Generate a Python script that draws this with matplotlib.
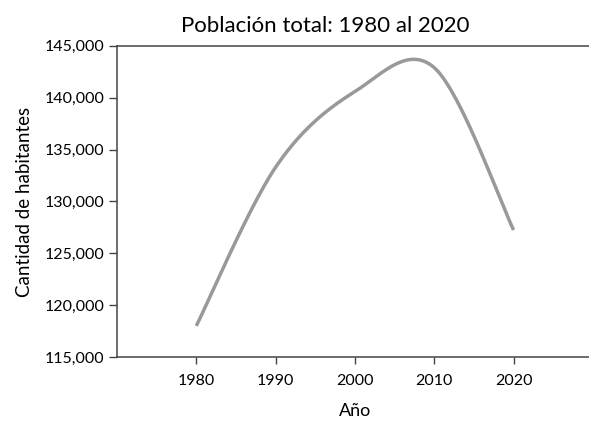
import numpy as np
import matplotlib
matplotlib.use("Agg")
import matplotlib.pyplot as plt
from matplotlib.ticker import FuncFormatter

plt.rcParams['font.family'] = ['Lato', 'DejaVu Sans']

# datos
anios = [1980, 1990, 2000, 2010, 2020]
habitantes = [118000, 133300, 140600, 142900, 127250]


def suavizar(xs, ys, n=60):
    # curva suavizada tipo Excel (bezier con tangentes catmull-rom)
    pts = np.column_stack([xs, ys]).astype(float)
    ext = np.vstack([pts[0], pts, pts[-1]])
    out = []
    for i in range(len(pts) - 1):
        p0, p1, p2, p3 = ext[i], ext[i + 1], ext[i + 2], ext[i + 3]
        c1 = p1 + (p2 - p0) / 6.0
        c2 = p2 - (p3 - p1) / 6.0
        t = np.linspace(0, 1, n)[:, None]
        seg = ((1 - t) ** 3) * p1 + 3 * ((1 - t) ** 2) * t * c1 + 3 * (1 - t) * t ** 2 * c2 + t ** 3 * p2
        out.append(seg if i == 0 else seg[1:])
    out = np.vstack(out)
    return out[:, 0], out[:, 1]


sx, sy = suavizar(anios, habitantes)

fig = plt.figure(figsize=(5.89, 4.21), dpi=100)
ax = fig.add_axes([0.1986, 0.152, 0.808, 0.739])

ax.plot(sx, sy, color="#999999", linewidth=2.5, solid_capstyle="butt")

ax.set_xlim(1970, 2030)
ax.set_ylim(115000, 145000)
ax.set_xticks(anios)
ax.set_yticks(np.arange(115000, 145001, 5000))
ax.yaxis.set_major_formatter(FuncFormatter(lambda v, p: "{:,.0f}".format(v)))

for lado in ["left", "bottom", "top"]:
    ax.spines[lado].set_color("#444444")
    ax.spines[lado].set_linewidth(1.1)
ax.spines["right"].set_visible(False)

ax.tick_params(axis="both", colors="#444444", labelcolor="black", labelsize=11.5, width=1.0)
ax.tick_params(axis="y", length=6, pad=3)
ax.tick_params(axis="x", length=5, pad=7)

ax.set_title("Población total: 1980 al 2020", fontsize=16, pad=10, x=0.437)
ax.set_xlabel("Año", fontsize=13, labelpad=11)
ax.set_ylabel("Cantidad de habitantes", fontsize=13.5, labelpad=8)

fig.savefig("out.png", dpi=100)
